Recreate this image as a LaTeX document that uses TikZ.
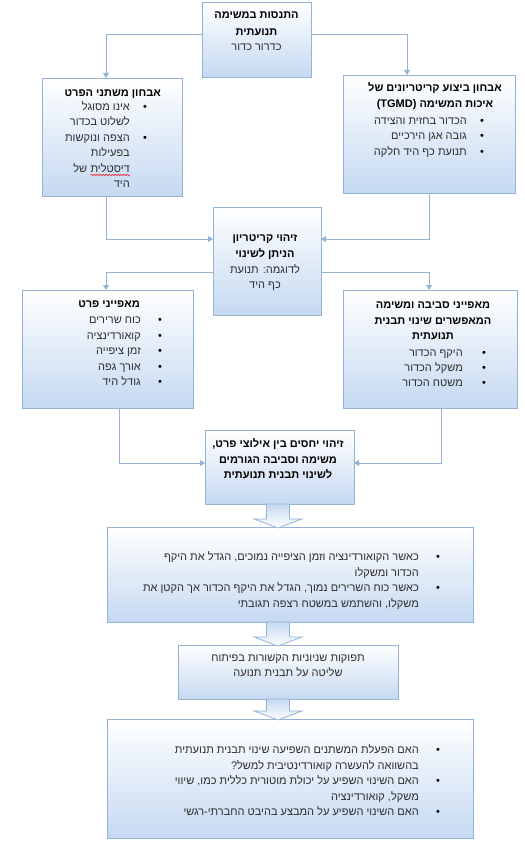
\documentclass[tikz,border=0pt]{standalone}
\usepackage{fontspec}
\setmainfont{Liberation Sans}
\newfontfamily\heb[Script=Hebrew]{Liberation Sans}
\TeXXeTstate=1
\usetikzlibrary{arrows.meta,calc,decorations.pathmorphing}
\definecolor{bordc}{RGB}{149,179,215}
\definecolor{fillc}{RGB}{197,217,241}
\definecolor{txtc}{RGB}{45,45,45}
\newcommand{\hb}[1]{\beginR #1\endR}
\newcommand{\blockarrow}[2]{%
  \path[barrow] (#1.south -| 266.5,0) -- (#1.south -| 289.5,0)
    -- ($(#2.north -| 289.5,0)+(0,-8)$) -- ($(#2.north -| 302,0)+(0,-8)$)
    -- ($(#2.north -| 278,0)+(0,1)$) -- ($(#2.north -| 254,0)+(0,-8)$)
    -- ($(#2.north -| 266.5,0)+(0,-8)$) -- cycle;}
\tikzset{
  box/.style={draw=bordc, line width=0.9pt, top color=white, bottom color=fillc,
    anchor=north west, inner sep=0pt, outer sep=0pt},
  conn/.style={draw=bordc, line width=0.9pt, -{Triangle[width=6pt,length=5pt]}},
  hd/.style={font=\heb\bfseries\fontsize{11}{13}\selectfont, text=black, inner sep=0pt},
  tx/.style={font=\heb\fontsize{11}{13}\selectfont, text=txtc, inner sep=0pt},
  bul/.style={font=\heb\fontsize{11}{13}\selectfont, text=black, inner sep=0pt, anchor=base},
  barrow/.style={draw=bordc, line width=0.8pt, top color=fillc, bottom color=white},
}
\begin{document}
\begin{tikzpicture}[x=1pt,y=-1pt]
\useasboundingbox (0,0) rectangle (524,858);
\fill[white] (0,0) rectangle (524,858);

% boxes
\node[box, minimum width=109pt, minimum height=75pt] (top) at (202,2) {};
\node[box, minimum width=140pt, minimum height=118pt] (lbox) at (42,78) {};
\node[box, minimum width=172pt, minimum height=118pt] (rbox) at (343,75) {};
\node[box, minimum width=108pt, minimum height=108pt] (mid) at (213,207) {};
\node[box, minimum width=171pt, minimum height=118pt] (lbox2) at (22,290) {};
\node[box, minimum width=174pt, minimum height=118pt] (rbox2) at (343,290) {};
\node[box, minimum width=149pt, minimum height=74pt] (zy) at (205,430) {};
\node[box, minimum width=366pt, minimum height=95pt] (b1) at (107,527) {};
\node[box, minimum width=220pt, minimum height=54pt] (out) at (178,645) {};
\node[box, minimum width=366pt, minimum height=119pt] (b2) at (107,719) {};

% connectors
\draw[conn] (top.west |- 0,34) -| (lbox.north -| 106,0);
\draw[conn] (top.east |- 0,34) -| (rbox.north -| 407,0);
\draw[conn] (lbox.south -| 106,0) |- (mid.west |- 0,239);
\draw[conn] (rbox.south -| 429,0) |- (mid.east |- 0,239);
\draw[conn] (mid.west |- 0,272) -| (lbox2.north -| 106,0);
\draw[conn] (mid.east |- 0,272) -| (rbox2.north -| 429,0);
\draw[conn] (lbox2.south -| 119,0) |- (zy.west |- 0,463);
\draw[conn] (rbox2.south -| 441,0) |- (zy.east |- 0,463);

% block arrows
\blockarrow{zy}{b1}
\blockarrow{b1}{out}
\blockarrow{out}{b2}

% top box text
\node[hd, anchor=base] (t1) at (256.5,19) {\hb{התנסות במשימה}};
\node[hd, anchor=base] (t2) at (256.5,35.5) {\hb{תנועתית}};
\node[tx, anchor=base] (t3) at (256.5,51) {\hb{כדרור כדור}};

% left box text
\node[hd, anchor=base east] (l0) at (161,96.5) {\hb{אבחון משתני הפרט}};
\node[bul] (lb1) at (145,110.5) {•};
\node[tx, anchor=base east] (l1) at (130,110.5) {\hb{אינו מסוגל}};
\node[tx, anchor=base east] (l2) at (130,126) {\hb{לשלוט בכדור}};
\node[bul] (lb2) at (145,141.5) {•};
\node[tx, anchor=base east] (l3) at (130,141.5) {\hb{הצפה ונוקשות}};
\node[tx, anchor=base east] (l4) at (130,157) {\hb{בפעילות}};
\node[tx, anchor=base east] (l5a) at (130,172.5) {\hb{דיסטלית}};
\node[tx, anchor=base east] (l5b) at ([xshift=-3pt]l5a.base west) {\hb{של}};
\node[tx, anchor=base east] (l6) at (130,188) {\hb{היד}};
\draw[red, line width=0.5pt, decorate, decoration={snake, amplitude=0.7pt, segment length=3pt}]
  ([yshift=-2pt]l5a.south west) -- ([yshift=-2pt]l5a.south east);

% right box text
\node[hd, anchor=base] (r0) at (435,91.5) {\hb{אבחון ביצוע קריטריונים של}};
\node[hd, anchor=base] (r0b) at (435,108) {\hb{איכות המשימה \beginL(TGMD)\endL}};
\node[bul] (rb1) at (482,124.5) {•};
\node[tx, anchor=base east] (r1) at (467,124.5) {\hb{הכדור בחזית והצידה}};
\node[bul] (rb2) at (482,140) {•};
\node[tx, anchor=base east] (r2) at (467,140) {\hb{גובה אגן הירכיים}};
\node[bul] (rb3) at (482,155.5) {•};
\node[tx, anchor=base east] (r3) at (467,155.5) {\hb{תנועת כף היד חלקה}};

% middle box text
\node[hd, anchor=base] (m1) at (265,242) {\hb{זיהוי קריטריון}};
\node[hd, anchor=base] (m2) at (265,257.5) {\hb{הניתן לשינוי}};
\node[tx, anchor=base] (m3) at (265,273) {\hb{לדוגמה: תנועת}};
\node[tx, anchor=base] (m4) at (265,288.5) {\hb{כף היד}};

% left box 2 text
\node[hd, anchor=base east] (p0) at (140,307.5) {\hb{מאפייני פרט}};
\node[bul] (pb1) at (160,323.5) {•};
\node[tx, anchor=base east] (p1) at (141,323.5) {\hb{כוח שרירים}};
\node[bul] (pb2) at (160,339) {•};
\node[tx, anchor=base east] (p2) at (141,339) {\hb{קואורדינציה}};
\node[bul] (pb3) at (160,354.5) {•};
\node[tx, anchor=base east] (p3) at (141,354.5) {\hb{זמן ציפייה}};
\node[bul] (pb4) at (160,370) {•};
\node[tx, anchor=base east] (p4) at (141,370) {\hb{אורך גפה}};
\node[bul] (pb5) at (160,385.5) {•};
\node[tx, anchor=base east] (p5) at (141,385.5) {\hb{גודל היד}};

% right box 2 text
\node[hd, anchor=base] (s0) at (433,308.5) {\hb{מאפייני סביבה ומשימה}};
\node[hd, anchor=base] (s0b) at (433,324) {\hb{המאפשרים שינוי תבנית}};
\node[hd, anchor=base] (s0c) at (433,339.5) {\hb{תנועתית}};
\node[bul] (sb1) at (484,356.5) {•};
\node[tx, anchor=base east] (s1) at (463,356.5) {\hb{היקף הכדור}};
\node[bul] (sb2) at (484,371.5) {•};
\node[tx, anchor=base east] (s2) at (463,371.5) {\hb{משקל הכדור}};
\node[bul] (sb3) at (484,386.5) {•};
\node[tx, anchor=base east] (s3) at (463,386.5) {\hb{משטח הכדור}};

% relation box text
\node[hd, anchor=base] (z1) at (278,447.5) {\hb{זיהוי יחסים בין אילוצי פרט,}};
\node[hd, anchor=base] (z2) at (278,463) {\hb{משימה וסביבה הגורמים}};
\node[hd, anchor=base] (z3) at (278,478.5) {\hb{לשינוי תבנית תנועתית}};

% big box 1 text
\node[bul] (bb1) at (438,560.5) {•};
\node[tx, anchor=base east] (bt1) at (419,560.5) {\hb{כאשר הקואורדינציה וזמן הציפייה נמוכים, הגדל את היקף}};
\node[tx, anchor=base east] (bt2) at (419,576) {\hb{הכדור ומשקלו}};
\node[bul] (bb2) at (438,591.5) {•};
\node[tx, anchor=base east] (bt3) at (419,591.5) {\hb{כאשר כוח השרירים נמוך, הגדל את היקף הכדור אך הקטן את}};
\node[tx, anchor=base east] (bt4) at (419,607) {\hb{משקלו, והשתמש במשטח רצפה תגובתי}};

% outputs box text
\node[tx, anchor=base] (o1) at (288,661) {\hb{תפוקות שניוניות הקשורות בפיתוח}};
\node[tx, anchor=base] (o2) at (288,676.5) {\hb{שליטה על תבנית תנועה}};

% big box 2 text
\node[bul] (cb1) at (438,753.5) {•};
\node[tx, anchor=base east] (ct1) at (419,753.5) {\hb{האם הפעלת המשתנים השפיעה שינוי תבנית תנועתית}};
\node[tx, anchor=base east] (ct2) at (419,769) {\hb{בהשוואה להעשרה קואורדינטיבית למשל?}};
\node[bul] (cb2) at (438,784.5) {•};
\node[tx, anchor=base east] (ct3) at (419,784.5) {\hb{האם השינוי השפיע על יכולת מוטורית כללית כמו, שיווי}};
\node[tx, anchor=base east] (ct4) at (419,800) {\hb{משקל, קואורדינציה}};
\node[bul] (cb3) at (438,815.5) {•};
\node[tx, anchor=base east] (ct5) at (419,815.5) {\hb{האם השינוי השפיע על המבצע בהיבט החברתי-רגשי}};
\end{tikzpicture}
\end{document}
